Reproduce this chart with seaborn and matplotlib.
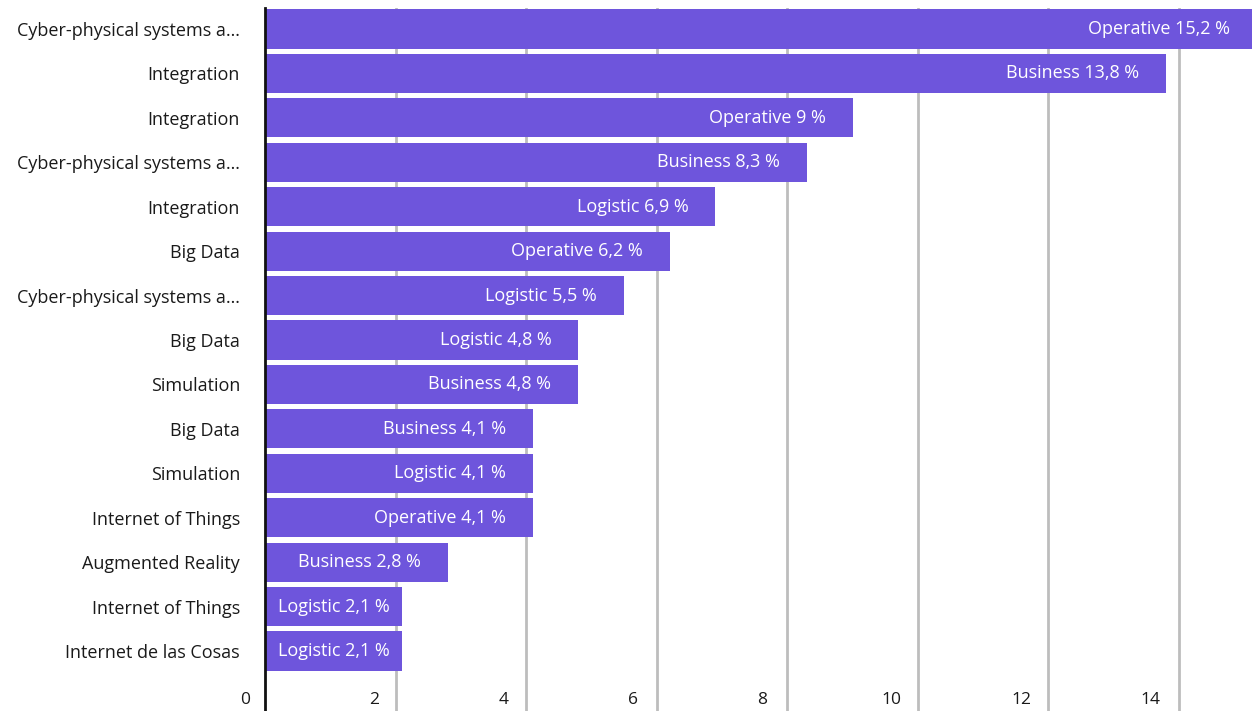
import matplotlib
matplotlib.use("Agg")
import matplotlib.pyplot as plt
import matplotlib.transforms as mtransforms
import seaborn as sns
import pandas as pd

technologies = [
    "Cyber-physical systems a…", "Integration", "Integration",
    "Cyber-physical systems a…", "Integration", "Big Data",
    "Cyber-physical systems a…", "Big Data", "Simulation", "Big Data",
    "Simulation", "Internet of Things", "Augmented Reality",
    "Internet of Things", "Internet de las Cosas",
]
areas = [
    "Operative", "Business", "Operative", "Business", "Logistic", "Operative",
    "Logistic", "Logistic", "Business", "Business", "Logistic", "Operative",
    "Business", "Logistic", "Logistic",
]
shares = [15.2, 13.8, 9, 8.3, 6.9, 6.2, 5.5, 4.8, 4.8, 4.1, 4.1, 4.1, 2.8, 2.1, 2.1]
x_ticks = [0, 2, 4, 6, 8, 10, 12, 14]

BAR = "#6E55DC"
GRID = "#BDBDBD"
TEXT = "#1a1a1a"
W, H, DPI = 1252, 711, 100
LEFT_PX, TOP_PX = 265, 8
X_MAX = 15.12

df = pd.DataFrame({
    "row": [str(i) for i in range(len(shares))],
    "technology": technologies,
    "area": areas,
    "share": shares,
})

sns.set_theme(style="white")
plt.rcParams["font.family"] = ["Open Sans", "DejaVu Sans"]

fig = plt.figure(figsize=(W / DPI, H / DPI), dpi=DPI)
ax = fig.add_axes([LEFT_PX / W, 0.0, 1 - LEFT_PX / W, 1 - TOP_PX / H])

sns.barplot(data=df, x="share", y="row", orient="h", color=BAR,
            saturation=1, width=0.88, linewidth=0, ax=ax, zorder=2)

ax.set_xlim(0, X_MAX)
ax.set_ylim(15.35, -0.473)
px_per_unit = (W - LEFT_PX) / X_MAX

# vertical grid behind the bars
for t in x_ticks[1:]:
    ax.axvline(t, color=GRID, lw=2, zorder=1)

ax.set_yticks(range(len(shares)))
ax.set_yticklabels(technologies, fontsize=13, color=TEXT)
ax.tick_params(axis="y", length=0, pad=18)

# axis numbers sit inside the plot, just left of their grid lines
ax.set_xticks([])
xnum_trans = mtransforms.blended_transform_factory(ax.transData, ax.transAxes)
for t in x_ticks:
    shift = mtransforms.ScaledTranslation((-20 - 0.6 * t) / DPI, 0, fig.dpi_scale_trans)
    ax.text(t, 11 / (H - TOP_PX), str(t), transform=xnum_trans + shift,
            ha="center", va="center", fontsize=12.5, color=TEXT, clip_on=False)

ax.set_xlabel("")
ax.set_ylabel("")

for s in ["top", "right", "bottom"]:
    ax.spines[s].set_visible(False)
ax.spines["left"].set_color("#111111")
ax.spines["left"].set_linewidth(2)
ax.spines["left"].set_zorder(3)

# value labels inside the bar ends; short bars keep them centred
renderer = fig.canvas.get_renderer()
for i, (a, v) in enumerate(zip(areas, shares)):
    txt = f"{a} {str(v).replace('.', ',')} %"
    t = ax.annotate(txt, xy=(v, i), xytext=(0, 0), textcoords="offset pixels",
                    ha="right", va="center", color="white", fontsize=13,
                    zorder=4, annotation_clip=False)
    tw = t.get_window_extent(renderer).width
    bar_px = v * px_per_unit
    pad = min(27, (bar_px - tw) / 2)
    t.set_position((-pad, 0))

fig.savefig("out.png", dpi=DPI)
